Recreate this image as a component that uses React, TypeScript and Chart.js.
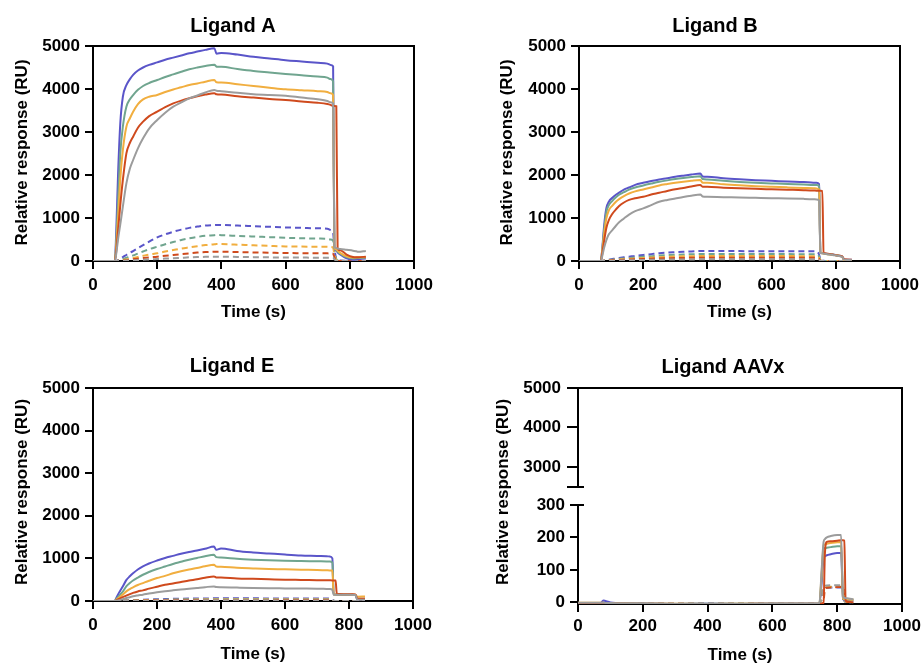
import React, { useEffect, useRef } from 'react';
import { Chart, registerables } from 'chart.js';

Chart.register(...registerables);

const FONT = '"Liberation Sans", Arial, Helvetica, sans-serif';
const BLUE = '#5A55C9';
const TEAL = '#70A58F';
const ORANGE = '#F1AE3F';
const RED = '#CF4A1D';
const GRAY = '#9C9C9C';

const X_TICKS = [0, 200, 400, 600, 800, 1000];
const Y_TICKS = [0, 1000, 2000, 3000, 4000, 5000];
const AAVX_TOP_TICKS = [2500, 3000, 4000, 5000];
const AAVX_LOW_TICKS = [0, 100, 200, 300];

// shared time grid (s) for Ligand A, B, E
const TIME = [0, 68, 72, 78, 85, 93, 104, 115, 125, 140,
  156, 175, 200, 225, 250, 275, 300, 325, 350, 378,
  385, 400, 450, 500, 550, 600, 650, 700, 730, 740,
  748, 752, 758, 762, 770, 790, 810, 820, 826, 850];

// ---- Ligand A ----
const A_BLUE = [0, 0, 600, 2000, 3200, 3820, 4090, 4230, 4330, 4430,
  4500, 4560, 4620, 4680, 4730, 4780, 4830, 4870, 4910, 4950,
  4820, 4840, 4800, 4750, 4710, 4670, 4640, 4610, 4590, 4560,
  4530, 300, 250, 200, 150, 60, 30, 35, 40, 60];
const A_TEAL = [0, 0, 400, 1400, 2500, 3124, 3589, 3760, 3860, 3980,
  4070, 4140, 4209, 4280, 4340, 4400, 4458, 4500, 4535, 4566,
  4520, 4515, 4465, 4420, 4385, 4350, 4320, 4290, 4264, 4230,
  4180, 300, 260, 220, 170, 90, 60, 65, 70, 80];
const A_ORANGE = [0, 0, 300, 1000, 1900, 2581, 3124, 3320, 3473, 3650,
  3760, 3820, 3860, 3930, 3990, 4040, 4093, 4130, 4170, 4209,
  4155, 4150, 4110, 4070, 4030, 3992, 3970, 3950, 3930, 3900,
  3860, 300, 270, 240, 190, 110, 80, 85, 88, 90];
const A_RED = [0, 0, 200, 700, 1300, 1884, 2504, 2750, 2891, 3100,
  3240, 3370, 3473, 3580, 3667, 3730, 3783, 3830, 3870, 3900,
  3876, 3870, 3830, 3800, 3770, 3744, 3710, 3680, 3650, 3630,
  3605, 3605, 3600, 300, 250, 150, 95, 90, 90, 100];
const A_GRAY = [0, 0, 150, 500, 850, 1263, 1806, 2150, 2349, 2620,
  2853, 3080, 3279, 3450, 3589, 3690, 3783, 3850, 3920, 3977,
  3960, 3950, 3910, 3880, 3860, 3844, 3800, 3760, 3721, 3690,
  3660, 320, 300, 290, 280, 260, 240, 225, 215, 235];
const A_BLUE_D = [0, 0, 0, 20, 50, 90, 140, 190, 230, 300,
  370, 450, 550, 620, 680, 730, 770, 800, 825, 837,
  840, 838, 825, 810, 795, 780, 770, 760, 750, 720,
  650, 300, 50, 20, 10, 5, 0, 0, 0, 0];
const A_TEAL_D = [0, 0, 0, 10, 25, 45, 75, 105, 130, 175,
  220, 275, 333, 390, 440, 490, 527, 560, 585, 600,
  605, 600, 585, 570, 555, 540, 530, 522, 515, 500,
  470, 250, 40, 15, 5, 0, 0, 0, 0, 0];
const A_ORANGE_D = [0, 0, 0, 5, 12, 22, 38, 55, 70, 95,
  120, 150, 178, 220, 255, 290, 318, 345, 370, 388,
  395, 393, 380, 365, 352, 340, 335, 333, 330, 325,
  310, 150, 20, 10, 5, 0, 0, 0, 0, 0];
const A_RED_D = [0, 0, 0, 3, 7, 12, 20, 30, 40, 55,
  70, 85, 100, 120, 140, 160, 178, 195, 208, 215,
  217, 216, 208, 200, 192, 185, 182, 180, 178, 175,
  170, 90, 15, 5, 0, 0, 0, 0, 0, 0];
const A_GRAY_D = [0, 0, 0, 1, 3, 5, 9, 13, 17, 22,
  28, 36, 46, 56, 65, 75, 85, 92, 97, 100,
  100, 99, 95, 90, 85, 80, 79, 78, 78, 77,
  75, 40, 5, 0, 0, 0, 0, 0, 0, 0];

// ---- Ligand B ----
const B_BLUE = [0, 0, 250, 800, 1220, 1380, 1470, 1540, 1590, 1660,
  1710, 1770, 1818, 1860, 1897, 1925, 1958, 1985, 2010, 2036,
  1965, 1960, 1925, 1900, 1880, 1865, 1848, 1835, 1822, 1818,
  1790, 200, 185, 180, 170, 150, 125, 100, 30, 30];
const B_TEAL = [0, 0, 220, 700, 1130, 1300, 1400, 1480, 1540, 1600,
  1660, 1710, 1757, 1800, 1841, 1875, 1905, 1930, 1952, 1973,
  1905, 1897, 1865, 1840, 1820, 1805, 1790, 1778, 1768, 1765,
  1740, 195, 180, 175, 165, 145, 120, 98, 25, 25];
const B_ORANGE = [0, 0, 200, 600, 980, 1180, 1290, 1380, 1440, 1510,
  1570, 1620, 1665, 1710, 1757, 1790, 1820, 1845, 1865, 1881,
  1822, 1818, 1785, 1760, 1740, 1725, 1712, 1700, 1692, 1688,
  1660, 190, 178, 172, 165, 145, 120, 95, 20, 20];
const B_RED = [0, 0, 150, 450, 760, 950, 1100, 1200, 1280, 1360,
  1420, 1460, 1493, 1545, 1586, 1630, 1670, 1700, 1735, 1765,
  1728, 1726, 1705, 1690, 1678, 1668, 1658, 1648, 1640, 1635,
  1633, 1633, 1630, 200, 175, 150, 125, 110, 40, 30];
const B_GRAY = [0, 0, 100, 300, 480, 620, 720, 820, 900, 990,
  1080, 1160, 1223, 1300, 1377, 1420, 1455, 1490, 1520, 1548,
  1500, 1493, 1485, 1478, 1470, 1462, 1455, 1445, 1437, 1432,
  1410, 190, 180, 175, 165, 140, 115, 95, 30, 25];
const B_BLUE_D = [0, 0, 0, 10, 20, 30, 45, 60, 70, 85,
  100, 120, 140, 160, 180, 195, 205, 215, 222, 232,
  232, 232, 232, 230, 229, 228, 227, 226, 225, 225,
  150, 30, 10, 5, 0, 0, 0, 0, 0, 0];
const B_TEAL_D = [0, 0, 0, 7, 14, 21, 32, 42, 50, 60,
  70, 85, 100, 113, 127, 137, 145, 152, 157, 163,
  163, 163, 163, 162, 161, 160, 160, 159, 158, 158,
  105, 20, 5, 0, 0, 0, 0, 0, 0, 0];
const B_ORANGE_D = [0, 0, 0, 5, 10, 15, 23, 30, 35, 43,
  50, 60, 70, 80, 90, 97, 103, 108, 112, 116,
  116, 116, 116, 115, 115, 114, 114, 113, 113, 112,
  75, 15, 3, 0, 0, 0, 0, 0, 0, 0];
const B_RED_D = [0, 0, 0, 3, 7, 10, 15, 20, 23, 28,
  33, 40, 47, 53, 60, 64, 68, 71, 74, 77,
  77, 77, 77, 76, 76, 76, 75, 75, 75, 75,
  50, 10, 2, 0, 0, 0, 0, 0, 0, 0];
const B_GRAY_D = [0, 0, 0, 2, 3, 5, 8, 10, 12, 14,
  17, 20, 24, 27, 30, 32, 34, 36, 37, 39,
  39, 39, 39, 38, 38, 38, 38, 38, 37, 37,
  25, 5, 0, 0, 0, 0, 0, 0, 0, 0];

// ---- Ligand E ----
const E_BLUE = [0, 0, 60, 150, 240, 340, 490, 580, 650, 740,
  811, 880, 950, 1010, 1060, 1110, 1150, 1185, 1225, 1279,
  1201, 1235, 1175, 1140, 1115, 1090, 1069, 1058, 1050, 1045,
  1000, 150, 150, 148, 148, 148, 145, 140, 40, 40];
const E_TEAL = [0, 0, 40, 90, 150, 220, 343, 420, 480, 550,
  616, 680, 750, 810, 870, 920, 970, 1010, 1050, 1084,
  1030, 1020, 990, 970, 955, 945, 938, 932, 928, 925,
  900, 150, 150, 148, 148, 148, 145, 140, 50, 50];
const E_ORANGE = [0, 0, 20, 60, 100, 150, 226, 280, 320, 375,
  421, 475, 540, 590, 650, 700, 740, 775, 815, 850,
  811, 805, 780, 765, 752, 745, 735, 728, 720, 718,
  715, 155, 150, 150, 150, 150, 148, 145, 100, 105];
const E_RED = [0, 0, 10, 35, 60, 90, 125, 160, 190, 225,
  250, 290, 335, 380, 410, 445, 480, 510, 545, 577,
  554, 550, 530, 520, 510, 500, 495, 490, 487, 485,
  484, 484, 480, 165, 162, 160, 158, 155, 60, 55];
const E_GRAY = [0, 0, 5, 15, 25, 40, 70, 90, 110, 130,
  148, 175, 205, 230, 250, 268, 285, 305, 325, 343,
  328, 325, 315, 306, 300, 296, 292, 288, 284, 281,
  260, 150, 148, 148, 145, 145, 143, 140, 30, 30];
const E_BLUE_D = [0, 0, 0, 3, 6, 9, 13, 17, 20, 25,
  30, 35, 40, 45, 50, 53, 56, 58, 60, 62,
  62, 62, 62, 62, 61, 61, 61, 60, 60, 60,
  40, 5, 0, 0, 0, 0, 0, 0, 0, 0];
const E_TEAL_D = [0, 0, 0, 2, 4, 6, 9, 12, 14, 18,
  22, 25, 29, 32, 36, 38, 40, 42, 44, 45,
  45, 45, 45, 45, 44, 44, 44, 44, 43, 43,
  30, 4, 0, 0, 0, 0, 0, 0, 0, 0];
const E_ORANGE_D = [0, 0, 0, 2, 3, 5, 7, 9, 11, 14,
  17, 20, 22, 25, 28, 30, 31, 33, 34, 35,
  35, 35, 35, 35, 34, 34, 34, 34, 34, 33,
  22, 3, 0, 0, 0, 0, 0, 0, 0, 0];
const E_RED_D = [0, 0, 0, 1, 2, 3, 5, 6, 8, 10,
  12, 14, 16, 18, 20, 21, 22, 23, 24, 25,
  25, 25, 25, 25, 24, 24, 24, 24, 24, 24,
  15, 2, 0, 0, 0, 0, 0, 0, 0, 0];
const E_GRAY_D = [0, 0, 0, 1, 1, 2, 3, 4, 5, 6,
  7, 8, 9, 10, 11, 12, 13, 14, 15, 15,
  15, 15, 15, 15, 15, 14, 14, 14, 14, 14,
  9, 1, 0, 0, 0, 0, 0, 0, 0, 0];

// ---- Ligand AAVx ----
const TIME_X = [0, 70, 78, 85, 100, 150, 200, 300, 400, 500,
  600, 700, 745, 752, 758, 762, 768, 780, 800, 812,
  818, 822, 826, 835, 850];
const X_BLUE = [-2, -2, 6, 4, 0, -3, -4, -5, -4, -5,
  -5, -5, -4, 60, 140, 142, 145, 148, 152, 152,
  10, 8, 8, 8, 6];
const X_TEAL = [-2, -2, -1, -2, -3, -4, -4, -5, -4, -4,
  -5, -5, -4, 80, 165, 167, 168, 170, 173, 173,
  12, 10, 10, 9, 8];
const X_ORANGE = [-1, -1, -1, -2, -3, -3, -4, -4, -5, -4,
  -4, -4, -4, 90, 176, 178, 180, 183, 185, 186,
  12, 10, 10, 9, 8];
const X_RED = [-2, -2, -2, -3, -3, -4, -4, -5, -5, -5,
  -4, -4, -4, -4, -3, 150, 186, 188, 190, 191,
  191, 190, 5, 2, 0];
const X_GRAY = [-1, -1, -1, -2, -2, -3, -3, -4, -4, -4,
  -3, -3, -3, 100, 186, 195, 200, 204, 207, 207,
  15, 14, 13, 12, 10];
const X_BLUE_D = [-2, -2, -2, -3, -3, -4, -4, -4, -4, -4,
  -4, -4, -4, 10, 40, 44, 45, 46, 46, 46,
  40, 5, 2, 1, 0];
const X_TEAL_D = [-2, -2, -2, -3, -3, -4, -4, -4, -4, -4,
  -4, -4, -4, 10, 42, 45, 46, 47, 47, 47,
  42, 5, 2, 1, 0];
const X_ORANGE_D = [-2, -2, -2, -3, -3, -4, -4, -4, -4, -4,
  -4, -4, -4, 12, 43, 46, 47, 48, 48, 48,
  44, 5, 2, 1, 0];
const X_RED_D = [-2, -2, -2, -3, -3, -4, -4, -4, -4, -4,
  -4, -4, -4, -4, 5, 40, 45, 46, 47, 47,
  46, 40, 5, 2, 0];
const X_GRAY_D = [-2, -2, -2, -3, -3, -4, -4, -4, -4, -4,
  -4, -4, -4, 15, 48, 51, 52, 53, 53, 53,
  50, 5, 2, 1, 0];

type Series = { values: number[]; color: string; dashed?: boolean };
type Spec = {
  title: string;
  left: number; top: number; width: number; height: number;
  area: { l: number; r: number; t: number; b: number };
  titleX: number; titleY: number;
  yTitleX: number; yTitleY: number;
  xTitleY: number;
  xLabelPad: number;
  times: number[];
  series: Series[];
  broken?: boolean;
};

const mk = (solid: number[][], dashed: number[][]): Series[] => {
  const cols = [BLUE, TEAL, ORANGE, RED, GRAY];
  return [
    ...dashed.map((v, i) => ({ values: v, color: cols[i], dashed: true })),
    ...solid.map((v, i) => ({ values: v, color: cols[i] })),
  ];
};

const PANELS: Spec[] = [
  {
    title: 'Ligand A', left: 0, top: 0, width: 460, height: 330,
    area: { l: 93, r: 414, t: 46, b: 261 },
    titleX: 233, titleY: 26, yTitleX: 22.5, yTitleY: 152.5, xTitleY: 312.5, xLabelPad: 6,
    times: TIME,
    series: mk([A_BLUE, A_TEAL, A_ORANGE, A_RED, A_GRAY], [A_BLUE_D, A_TEAL_D, A_ORANGE_D, A_RED_D, A_GRAY_D]),
  },
  {
    title: 'Ligand B', left: 460, top: 0, width: 480, height: 330,
    area: { l: 119, r: 440, t: 46, b: 261 },
    titleX: 255, titleY: 26, yTitleX: 47.5, yTitleY: 152.5, xTitleY: 312.5, xLabelPad: 6,
    times: TIME,
    series: mk([B_BLUE, B_TEAL, B_ORANGE, B_RED, B_GRAY], [B_BLUE_D, B_TEAL_D, B_ORANGE_D, B_RED_D, B_GRAY_D]),
  },
  {
    title: 'Ligand E', left: 0, top: 340, width: 460, height: 340,
    area: { l: 93, r: 413, t: 48, b: 261 },
    titleX: 232, titleY: 26, yTitleX: 22.5, yTitleY: 152, xTitleY: 314.5, xLabelPad: 6,
    times: TIME,
    series: mk([E_BLUE, E_TEAL, E_ORANGE, E_RED, E_GRAY], [E_BLUE_D, E_TEAL_D, E_ORANGE_D, E_RED_D, E_GRAY_D]),
  },
  {
    title: 'Ligand AAVx', left: 460, top: 340, width: 480, height: 340,
    area: { l: 118, r: 442, t: 48, b: 264 },
    titleX: 263, titleY: 27.5, yTitleX: 43.3, yTitleY: 152, xTitleY: 315, xLabelPad: 4.5,
    times: TIME_X,
    series: mk([X_BLUE, X_TEAL, X_ORANGE, X_RED, X_GRAY], [X_BLUE_D, X_TEAL_D, X_ORANGE_D, X_RED_D, X_GRAY_D]),
    broken: true,
  },
];

const tickFont = { family: FONT, size: 17, weight: 'bold' as const, lineHeight: 1.2 };
const label = (v: any) => String(v);

function buildConfig(spec: Spec): any {
  const { area, width, height } = spec;
  const yId = spec.broken ? 'yLow' : 'y';
  const datasets = spec.series.map((s) => ({
    data: spec.times.map((t, i) => ({ x: t, y: s.values[i] })),
    borderColor: s.color,
    backgroundColor: s.color,
    borderWidth: 2,
    borderDash: s.dashed ? [6, 4] : [],
    pointRadius: 0,
    fill: false,
    cubicInterpolationMode: 'monotone',
    yAxisID: yId,
    xAxisID: 'x',
  })).reverse();

  const axisGrid = (len: number) => ({
    display: true, drawOnChartArea: false, drawTicks: true, tickLength: len,
    color: '#000', lineWidth: 2,
  });
  const border = { display: true, color: '#000', width: 2 };
  const yFit = (s: any) => { s.width = area.l; s.paddingTop = 0; s.paddingBottom = 0; };

  const scales: any = {
    x: {
      type: 'linear', position: 'bottom', min: 0, max: 1000,
      afterBuildTicks: (s: any) => { s.ticks = X_TICKS.map((v) => ({ value: v })); },
      afterFit: (s: any) => { s.height = height - area.b; s.paddingLeft = 0; s.paddingRight = 0; },
      grid: axisGrid(8), border,
      ticks: { color: '#000', font: tickFont, padding: spec.xLabelPad, maxRotation: 0, autoSkip: false, callback: label },
    },
  };

  if (!spec.broken) {
    scales.y = {
      type: 'linear', position: 'left', min: 0, max: 5000,
      afterBuildTicks: (s: any) => { s.ticks = Y_TICKS.map((v) => ({ value: v })); },
      afterFit: yFit,
      grid: axisGrid(8), border,
      ticks: { color: '#000', font: tickFont, padding: 5, autoSkip: false, callback: label },
    };
  } else {
    // stacked left scales: listed bottom-first, Chart.js places them upward
    scales.yLow = {
      type: 'linear', position: 'left', stack: 'v', stackWeight: 99.2, min: -5, max: 300,
      afterBuildTicks: (s: any) => { s.ticks = AAVX_LOW_TICKS.map((v) => ({ value: v })); },
      afterFit: yFit,
      grid: axisGrid(8), border,
      ticks: { color: '#000', font: tickFont, padding: 5, autoSkip: false, callback: label },
    };
    scales.yGap = {
      type: 'linear', position: 'left', stack: 'v', stackWeight: 18.2, min: 0, max: 1,
      afterFit: yFit,
      grid: { display: false }, border: { display: false }, ticks: { display: false },
    };
    scales.yTop = {
      type: 'linear', position: 'left', stack: 'v', stackWeight: 98.8, min: 2500, max: 5000,
      afterBuildTicks: (s: any) => { s.ticks = AAVX_TOP_TICKS.map((v) => ({ value: v })); },
      afterFit: yFit,
      grid: axisGrid(11), border,
      ticks: { color: '#000', font: tickFont, padding: 6, autoSkip: false, callback: (v: any) => (v === 2500 ? '' : String(v)) },
    };
  }

  const decor = {
    id: 'decor',
    afterDraw(chart: any) {
      const { ctx, chartArea: ca } = chart;
      ctx.save();
      ctx.strokeStyle = '#000';
      ctx.lineWidth = 2;
      ctx.beginPath();
      ctx.moveTo(ca.left - 1, ca.top);
      ctx.lineTo(ca.right, ca.top);
      ctx.lineTo(ca.right, ca.bottom + 1);
      ctx.stroke();
      if (spec.broken) {
        const ys = [chart.scales.yTop.getPixelForValue(2500), chart.scales.yLow.getPixelForValue(300)];
        ctx.beginPath();
        for (const p of ys) {
          const py = Math.round(p);
          ctx.moveTo(ca.left - 8, py);
          ctx.lineTo(ca.left + 6, py);
        }
        ctx.stroke();
      }
      ctx.fillStyle = '#000';
      ctx.textAlign = 'center';
      ctx.textBaseline = 'middle';
      ctx.font = `bold 20px ${FONT}`;
      ctx.fillText(spec.title, spec.titleX, spec.titleY);
      ctx.font = `bold 17px ${FONT}`;
      ctx.fillText('Time (s)', (ca.left + ca.right) / 2, spec.xTitleY);
      ctx.translate(spec.yTitleX, spec.yTitleY);
      ctx.rotate(-Math.PI / 2);
      ctx.fillText('Relative response (RU)', 0, 0);
      ctx.restore();
    },
  };

  return {
    type: 'line',
    data: { datasets },
    options: {
      responsive: false,
      maintainAspectRatio: false,
      devicePixelRatio: 1,
      animation: false,
      layout: { padding: { left: 0, top: area.t, right: width - area.r, bottom: 0 } },
      plugins: { legend: { display: false }, tooltip: { enabled: false }, title: { display: false } },
      scales,
    },
    plugins: [decor],
  };
}

function Panel({ spec }: { spec: Spec }) {
  const ref = useRef<HTMLCanvasElement | null>(null);
  useEffect(() => {
    if (!ref.current) return;
    const chart = new Chart(ref.current, buildConfig(spec));
    return () => chart.destroy();
  }, [spec]);
  return (
    <canvas
      ref={ref}
      width={spec.width}
      height={spec.height}
      style={{ position: 'absolute', left: spec.left, top: spec.top, width: spec.width, height: spec.height }}
    />
  );
}

export default function App() {
  return (
    <div style={{ position: 'absolute', left: 0, top: 0, width: 921, height: 663, overflow: 'hidden', background: '#fff' }}>
      {PANELS.map((p) => (
        <Panel key={p.title} spec={p} />
      ))}
    </div>
  );
}
